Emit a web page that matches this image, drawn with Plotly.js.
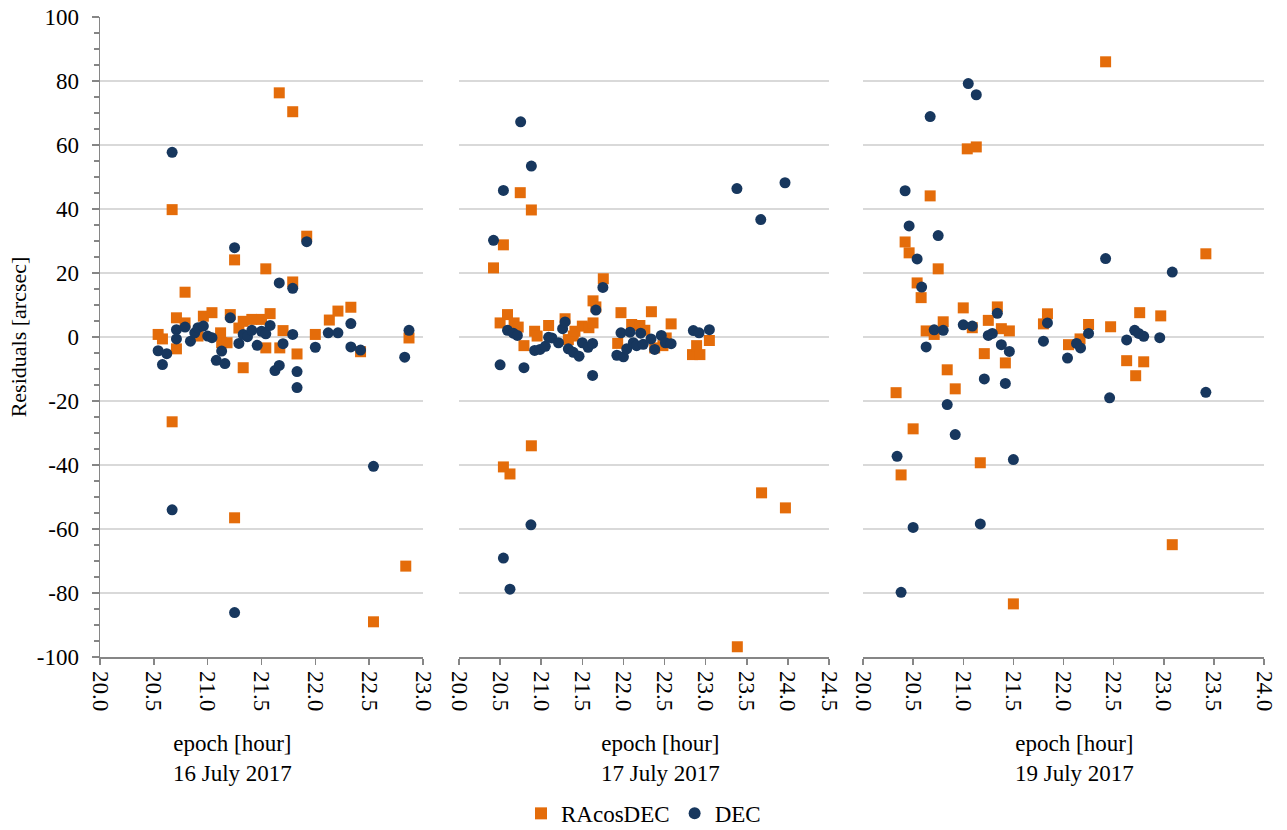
<!DOCTYPE html>
<html>
<head>
<meta charset="utf-8">
<script src="https://cdn.plot.ly/plotly-3.0.1.min.js"></script>
<style>
html,body{margin:0;padding:0;background:#fff;}
#chart{width:1287px;height:830px;}
</style>
</head>
<body>
<div id="chart"></div>
<script>
// ---------- data ----------
const seriesNames = ["RAcosDEC", "DEC"];
const panelDates = ["16 July 2017", "17 July 2017", "19 July 2017"];
const xTitle = "epoch [hour]";
const yTitle = "Residuals [arcsec]";
const yTickVals = [-100, -80, -60, -40, -20, 0, 20, 40, 60, 80, 100];
const yTickText = ["-100", "-80", "-60", "-40", "-20", "0", "20", "40", "60", "80", "100"];
const xRange16 = [20.0, 23.0];
const xRange17 = [20.0, 24.5];
const xRange19 = [20.0, 24.0];

// 16 July 2017
const ra16x = [20.54,20.58,20.67,20.67,20.71,20.71,20.79,20.79,20.91,20.96,21.04,21.12,21.13,21.18,21.21,21.25,21.25,21.29,21.33,21.33,21.41,21.50,21.54,21.54,21.58,21.665,21.67,21.70,21.79,21.79,21.83,21.92,22.00,22.13,22.21,22.33,22.42,22.54,22.84,22.87];
const ra16y = [0.8,-0.6,39.8,-26.5,6.0,-3.7,14.0,4.4,0.3,6.5,7.6,1.3,-1.8,-1.8,7.0,24.1,-56.5,2.8,4.9,-9.6,5.5,5.5,21.3,-3.4,7.3,76.3,-3.4,2.0,70.4,17.2,-5.3,31.5,0.8,5.3,8.1,9.3,-4.6,-89.0,-71.6,-0.3];
const dec16x = [20.54,20.58,20.62,20.67,20.67,20.71,20.71,20.79,20.84,20.88,20.91,20.96,21.00,21.04,21.08,21.13,21.16,21.21,21.25,21.25,21.29,21.33,21.37,21.41,21.46,21.50,21.54,21.58,21.625,21.665,21.665,21.70,21.79,21.79,21.83,21.83,21.92,22.00,22.12,22.21,22.33,22.33,22.42,22.54,22.83,22.87];
const dec16y = [-4.3,-8.6,-5.2,57.7,-54.0,2.3,-0.6,3.1,-1.3,1.3,2.9,3.4,0.3,-0.2,-7.3,-4.4,-8.3,6.0,27.9,-86.1,-2.0,0.8,0.1,2.1,-2.6,1.8,1.0,3.6,-10.5,16.9,-8.9,-2.1,15.2,0.8,-10.8,-15.8,29.8,-3.2,1.3,1.3,4.2,-3.1,-4.1,-40.4,-6.3,2.1];

// 17 July 2017
const ra17x = [20.42,20.50,20.54,20.54,20.59,20.62,20.67,20.72,20.745,20.79,20.88,20.88,20.92,20.95,21.09,21.29,21.33,21.39,21.41,21.50,21.58,21.63,21.63,21.665,21.755,21.93,21.97,22.10,22.20,22.26,22.34,22.38,22.48,22.52,22.58,22.84,22.89,22.93,23.045,23.385,23.68,23.97];
const ra17y = [21.6,4.4,28.8,-40.6,7.0,-42.8,4.4,3.1,45.1,-2.7,39.7,-34.0,1.8,0.3,3.6,5.7,-0.8,0.3,1.8,3.4,2.9,4.4,11.3,9.4,18.2,-2.0,7.6,3.9,3.6,2.1,7.9,-3.4,-2.7,-0.3,4.1,-5.5,-2.7,-5.5,-1.1,-96.8,-48.7,-53.4];
const dec17x = [20.42,20.50,20.54,20.54,20.59,20.62,20.66,20.71,20.75,20.79,20.875,20.88,20.92,20.985,21.05,21.09,21.13,21.21,21.26,21.29,21.33,21.39,21.46,21.50,21.57,21.625,21.625,21.665,21.75,21.92,21.97,22.00,22.04,22.08,22.12,22.16,22.21,22.24,22.335,22.38,22.46,22.51,22.58,22.85,22.92,23.045,23.38,23.67,23.965];
const dec17y = [30.2,-8.7,45.8,-69.1,2.1,-78.8,1.2,0.5,67.25,-9.6,-58.7,53.4,-4.2,-3.9,-2.9,-0.1,-0.3,-1.8,2.6,4.7,-3.7,-4.8,-6.0,-1.8,-3.2,-2.0,-12.0,8.4,15.5,-5.7,1.3,-6.2,-3.7,1.5,-1.8,-2.7,1.2,-2.3,-0.6,-3.9,0.5,-1.8,-2.1,2.0,1.3,2.3,46.4,36.7,48.2];

// 19 July 2017
const ra19x = [20.33,20.38,20.42,20.46,20.50,20.54,20.58,20.63,20.67,20.71,20.75,20.80,20.84,20.92,21.00,21.04,21.09,21.13,21.17,21.21,21.25,21.34,21.38,21.42,21.46,21.50,21.80,21.84,22.05,22.165,22.25,22.42,22.47,22.63,22.72,22.76,22.80,22.97,23.085,23.42];
const ra19y = [-17.4,-43.1,29.7,26.3,-28.7,16.9,12.3,1.9,44.1,0.8,21.3,4.75,-10.25,-16.2,9.1,58.8,2.9,59.4,-39.3,-5.2,5.2,9.4,2.6,-8.1,1.9,-83.4,4.1,7.25,-2.4,-0.6,3.9,86.0,3.2,-7.4,-12.1,7.6,-7.75,6.6,-64.9,26.0];
const dec19x = [20.34,20.38,20.42,20.46,20.50,20.54,20.585,20.63,20.67,20.71,20.75,20.80,20.84,20.92,21.00,21.05,21.09,21.13,21.17,21.21,21.25,21.29,21.34,21.38,21.42,21.46,21.50,21.80,21.84,22.04,22.13,22.17,22.25,22.42,22.46,22.63,22.71,22.75,22.80,22.96,23.085,23.42];
const dec19y = [-37.3,-79.8,45.7,34.7,-59.5,24.4,15.6,-3.1,68.9,2.25,31.7,2.1,-21.1,-30.5,3.8,79.2,3.4,75.7,-58.4,-13.1,0.5,1.1,7.4,-2.4,-14.5,-4.5,-38.3,-1.3,4.4,-6.6,-2.0,-3.4,1.1,24.5,-19.0,-0.9,2.1,1.1,0.2,-0.2,20.3,-17.3];

// ---------- styles ----------
const FONT = "Liberation Serif, Times New Roman, serif";
const FS = 23;
const RA_COLOR = "#E46C0A";
const DEC_COLOR = "#17375E";
const AXIS_COLOR = "#868686";
const GRID_COLOR = "#D9D9D9";

function raTrace(x, y, xa, ya, show) {
  return {type: "scatter", mode: "markers", x: x, y: y, xaxis: xa, yaxis: ya,
    name: seriesNames[0], legendgroup: "ra", showlegend: show,
    marker: {symbol: "square", size: 11, color: RA_COLOR, line: {width: 0}}};
}
function decTrace(x, y, xa, ya, show) {
  return {type: "scatter", mode: "markers", x: x, y: y, xaxis: xa, yaxis: ya,
    name: seriesNames[1], legendgroup: "dec", showlegend: show,
    marker: {symbol: "circle", size: 11, color: DEC_COLOR, line: {width: 0}}};
}

const data = [
  raTrace(ra16x, ra16y, "x", "y", true),
  raTrace(ra17x, ra17y, "x2", "y2", false),
  raTrace(ra19x, ra19y, "x3", "y3", false),
  decTrace(dec16x, dec16y, "x", "y", true),
  decTrace(dec17x, dec17y, "x2", "y2", false),
  decTrace(dec19x, dec19y, "x3", "y3", false)
];

function xAxis(range, domain, anchor) {
  return {range: range, domain: domain, anchor: anchor,
    tickmode: "linear", tick0: 20, dtick: 0.5, tickformat: ".1f",
    tickangle: 90, ticks: "outside", ticklen: 6, tickwidth: 1.5, tickcolor: AXIS_COLOR,
    showline: true, linecolor: AXIS_COLOR, linewidth: 1.5,
    showgrid: false, zeroline: false, ticklabelstandoff: 2,
    tickfont: {family: FONT, size: FS, color: "#000"}, fixedrange: true};
}
function yAxis(anchor, main) {
  const a = {range: [-100, 100], anchor: anchor, domain: [0, 1],
    tickmode: "array", tickvals: yTickVals, ticktext: yTickText,
    showgrid: true, gridcolor: GRID_COLOR, gridwidth: 1.5, zeroline: false,
    tickfont: {family: FONT, size: FS, color: "#000"}, fixedrange: true};
  if (main) {
    Object.assign(a, {showline: true, linecolor: AXIS_COLOR, linewidth: 1.5,
      ticks: "outside", ticklen: 7, tickwidth: 1.5, tickcolor: AXIS_COLOR,
      ticklabelstandoff: 8,
      minor: {tickmode: "linear", tick0: 0, dtick: 5, ticks: "outside", ticklen: 5,
              tickwidth: 1.5, tickcolor: AXIS_COLOR, showgrid: false},
      title: {text: yTitle, standoff: 4, font: {family: FONT, size: 22, color: "#000"}}});
  } else {
    Object.assign(a, {showline: false, ticks: "", showticklabels: false});
  }
  return a;
}

const W = 1164; // plot width in px (1287 - 100 - 23)
const layout = {
  width: 1287, height: 830,
  margin: {l: 100, r: 23, t: 17, b: 173},
  paper_bgcolor: "#fff", plot_bgcolor: "#fff",
  font: {family: FONT, size: FS, color: "#000"},
  xaxis: xAxis(xRange16, [0, 323 / W], "y"),
  xaxis2: xAxis(xRange17, [359 / W, 729 / W], "y2"),
  xaxis3: xAxis(xRange19, [763 / W, 1], "y3"),
  yaxis: yAxis("x", true),
  yaxis2: yAxis("x2", false),
  yaxis3: yAxis("x3", false),
  showlegend: true,
  legend: {orientation: "h", xref: "container", yref: "container",
    x: 0.5, xanchor: "center", y: 0.02, yanchor: "middle",
    font: {family: FONT, size: FS, color: "#000"}, itemsizing: "constant",
    tracegroupgap: 0, itemwidth: 30},
  annotations: panelDates.map((d, i) => ({
    text: xTitle + "<br>" + d, xref: "paper", yref: "paper",
    x: [132 / W, 560 / W, 974 / W][i], y: -101.5 / 640,
    xanchor: "center", yanchor: "middle", showarrow: false,
    font: {family: FONT, size: FS, color: "#000"}
  }))
};

Plotly.newPlot("chart", data, layout, {displayModeBar: false, staticPlot: true});
</script>
</body>
</html>
